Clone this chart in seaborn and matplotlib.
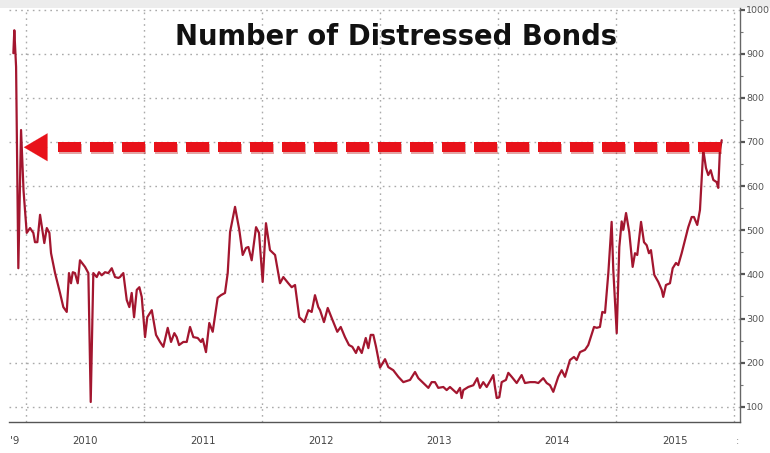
import matplotlib
matplotlib.use("Agg")
import matplotlib.pyplot as plt
import matplotlib.patheffects as pe
import matplotlib.ticker as mticker
import seaborn as sns
import numpy as np
import pandas as pd

# ---- data (fractional years, number of distressed bonds) ----
years = [2009.897, 2009.905, 2009.920, 2009.939, 2009.962, 2009.983,
         2010.010, 2010.038, 2010.066, 2010.080, 2010.100, 2010.123, 2010.146, 2010.159,
         2010.180, 2010.202, 2010.216, 2010.250, 2010.292, 2010.320, 2010.349, 2010.368,
         2010.385, 2010.400, 2010.419, 2010.442, 2010.461, 2010.504, 2010.532, 2010.552,
         2010.574, 2010.603, 2010.622, 2010.645, 2010.673, 2010.701, 2010.730, 2010.758,
         2010.786, 2010.800, 2010.828, 2010.857, 2010.879, 2010.899, 2010.919, 2010.942,
         2010.964, 2010.984,
         2011.012, 2011.031, 2011.069, 2011.105, 2011.139, 2011.167, 2011.204, 2011.232,
         2011.260, 2011.280, 2011.300, 2011.336, 2011.365, 2011.393, 2011.421, 2011.458,
         2011.486, 2011.500, 2011.528, 2011.556, 2011.585, 2011.627, 2011.655, 2011.689,
         2011.712, 2011.732, 2011.774, 2011.810, 2011.839, 2011.867, 2011.887, 2011.915,
         2011.952, 2011.977,
         2012.008, 2012.036, 2012.070, 2012.113, 2012.155, 2012.183, 2012.225, 2012.254,
         2012.282, 2012.318, 2012.361, 2012.395, 2012.423, 2012.451, 2012.479, 2012.494,
         2012.527, 2012.559, 2012.593, 2012.640, 2012.669, 2012.705, 2012.739, 2012.767,
         2012.798, 2012.818, 2012.847, 2012.881, 2012.903, 2012.923, 2012.945, 2012.968,
         2013.002, 2013.044, 2013.072, 2013.114, 2013.157, 2013.199, 2013.256, 2013.298,
         2013.326, 2013.368, 2013.411, 2013.439, 2013.467, 2013.495, 2013.538, 2013.566,
         2013.594, 2013.622, 2013.651, 2013.679, 2013.693, 2013.707, 2013.749, 2013.792,
         2013.825, 2013.848, 2013.876, 2013.905, 2013.939, 2013.961, 2013.975, 2013.990,
         2014.012, 2014.032, 2014.068, 2014.088, 2014.117, 2014.159, 2014.201, 2014.229,
         2014.272, 2014.314, 2014.342, 2014.384, 2014.413, 2014.441, 2014.469, 2014.511,
         2014.540, 2014.568, 2014.610, 2014.644, 2014.667, 2014.695, 2014.737, 2014.765,
         2014.814, 2014.837, 2014.864, 2014.884, 2014.907, 2014.935, 2014.963, 2014.977,
         2015.006, 2015.028, 2015.048, 2015.062, 2015.085, 2015.112, 2015.141, 2015.161,
         2015.180, 2015.212, 2015.237, 2015.260, 2015.279, 2015.296, 2015.324, 2015.358,
         2015.387, 2015.400, 2015.423, 2015.457, 2015.480, 2015.508, 2015.527, 2015.556,
         2015.584, 2015.612, 2015.641, 2015.660, 2015.688, 2015.711, 2015.739, 2015.762,
         2015.781, 2015.802, 2015.824, 2015.852, 2015.866, 2015.880, 2015.895]

bonds = [901, 953, 870, 414, 727, 590,
         494, 505, 494, 473, 473, 535, 494, 471,
         505, 494, 448, 403, 358, 326, 315, 403,
         380, 405, 403, 380, 432, 417, 403, 111,
         403, 394, 405, 398, 405, 403, 414, 394,
         392, 394, 403, 342, 326, 358, 303, 365,
         371, 349,
         258, 303, 319, 263, 247, 236, 279, 247,
         267, 258, 240, 247, 247, 281, 258, 256,
         247, 254, 224, 290, 270, 347, 353, 358,
         403, 496, 553, 501, 444, 460, 462, 432,
         507, 494,
         383, 516, 455, 444, 380, 394, 380, 371,
         376, 303, 292, 319, 315, 353, 326, 319,
         292, 324, 301, 270, 281, 258, 240, 236,
         222, 236, 222, 256, 233, 263, 263, 236,
         189, 208, 190, 183, 168, 156, 161, 179,
         165, 154, 143, 156, 156, 143, 145, 138,
         145, 138, 131, 143, 120, 138, 145, 149,
         165, 143, 156, 145, 161, 172, 145, 120,
         122, 156, 161, 177, 168, 154, 172, 154,
         156, 156, 154, 165, 154, 149, 134, 168,
         183, 168, 206, 213, 206, 224, 229, 240,
         281, 279, 281, 315, 313, 403, 519, 410,
         267, 462, 520, 501, 539, 496, 417, 448,
         444, 519, 473, 466, 448, 455, 399, 383,
         365, 349, 376, 380, 414, 426, 421, 448,
         478, 507, 530, 530, 512, 546, 682, 641,
         625, 636, 614, 609, 596, 682, 704]

year_labels = ["2010", "2011", "2012", "2013", "2014", "2015"]
year_starts = [2010, 2011, 2012, 2013, 2014, 2015, 2016]
y_ticks = [100, 200, 300, 400, 500, 600, 700, 800, 900, 1000]

title_text = "Number of Distressed Bonds"
arrow_level = 688          # value where the dashed arrow sits
arrow_tip = 2009.985       # arrow points back to the 2009 level
arrow_head_end = 2010.19
arrow_tail = 2015.905
dash_start = 2010.275

df = pd.DataFrame({"year": years, "bonds": bonds})

# ---- style ----
sns.set_style("white")
plt.rcParams["font.family"] = ["DejaVu Sans"]

fig = plt.figure(figsize=(7.70, 4.53), dpi=100)
fig.patch.set_facecolor("white")

# light grey strip at top of the image (behind everything)
fig.patches.append(plt.Rectangle((0, 1 - 8 / 453), 1, 8 / 453, transform=fig.transFigure,
                                 facecolor="#ececec", edgecolor="none", zorder=-5))

ax = fig.add_axes([9 / 770, 31 / 453, 731 / 770, 414 / 453])
ax.set_facecolor("white")

sns.lineplot(data=df, x="year", y="bonds", ax=ax, color="#a3162f",
             linewidth=1.6, sort=False, estimator=None, zorder=3)

# grid / ticks
ax.set_yticks(y_ticks)
ax.yaxis.set_minor_locator(mticker.MultipleLocator(50))
ax.set_xticks(year_starts)
ax.set_xticks(np.arange(2010.0, 2016.01, 0.25), minor=True)
ax.grid(True, which="major", color="#aaaaaa", linestyle=(0, (1.2, 3.0)), linewidth=1.0)
ax.set_axisbelow(True)

ax.set_xlim(2009.860, 2016.050)
ax.set_ylim(65.7, 1003.4)

# axes labels/ticks
ax.set_xlabel("")
ax.set_ylabel("")
ax.yaxis.tick_right()
ax.yaxis.set_label_position("right")
ax.tick_params(axis="y", which="major", direction="out", length=3.5, width=1.6,
               color="#555555", labelsize=6.8, labelcolor="#555555", pad=1.0)
ax.tick_params(axis="y", which="minor", direction="out", length=2, width=0.8,
               color="#777777")
ax.tick_params(axis="x", which="major", direction="out", length=23, width=0.8,
               color="#888888", labelbottom=False)
ax.tick_params(axis="x", which="minor", direction="out", length=3, width=0.8,
               color="#888888")

for side in ["top", "left"]:
    ax.spines[side].set_visible(False)
ax.spines["right"].set_color("#666666")
ax.spines["right"].set_linewidth(1.0)
ax.spines["bottom"].set_color("#555555")
ax.spines["bottom"].set_linewidth(1.0)

# year labels centred between boundaries
sec = ax.secondary_xaxis("bottom")
sec.set_xticks([y + 0.5 for y in year_starts[:-1]], year_labels)
sec.tick_params(length=0, labelsize=7.3, labelcolor="#444444", pad=10)
sec.spines["bottom"].set_visible(False)
ax.text(0.001, -0.045, "'9", transform=ax.transAxes, ha="left", va="center",
        fontsize=7.3, color="#444444")
ax.text(0.997, -0.045, ":", transform=ax.transAxes, ha="center", va="center",
        fontsize=7.3, color="#888888")

# dashed red arrow
shadow = [pe.SimpleLineShadow(offset=(0.8, -1.2), shadow_color="#b00000", alpha=0.35),
          pe.Normal()]
ax.plot([dash_start, arrow_tail], [arrow_level, arrow_level], color="#e8121a",
        linewidth=7.2, linestyle=(0, (2.3, 0.9)), solid_capstyle="butt",
        dash_capstyle="butt", zorder=4, path_effects=shadow)
ax.annotate("", xy=(arrow_tip, arrow_level), xytext=(arrow_head_end, arrow_level),
            arrowprops=dict(arrowstyle="-|>,head_length=0.85,head_width=0.5",
                            mutation_scale=20, color="#e8121a", lw=0.1,
                            shrinkA=0, shrinkB=0),
            zorder=4)
ax.set_xlim(2009.860, 2016.050)

# title
fig.text(396 / 770, 1 - 37 / 453, title_text, ha="center", va="center",
         fontsize=19.8, fontweight="bold", color="#111111")

fig.savefig("out.png", dpi=100)
